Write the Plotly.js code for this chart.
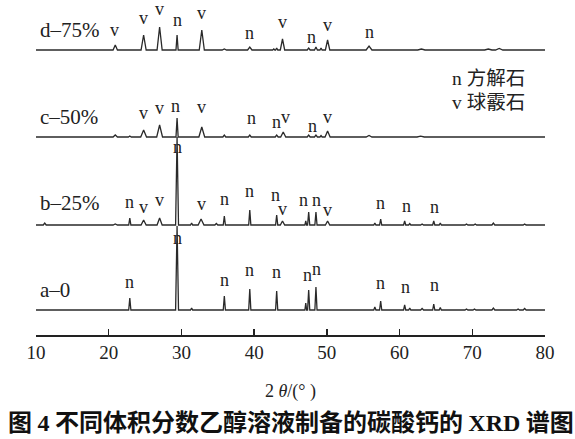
<!DOCTYPE html>
<html>
<head>
<meta charset="utf-8">
<script src="https://cdn.plot.ly/plotly-3.0.1.min.js"></script>
<style>html,body{margin:0;padding:0;background:#fff;}</style>
</head>
<body>
<div id="chart" style="width:575px;height:439px;"></div>
<script>
// ---- data (2θ in degrees, intensity in arbitrary units above each baseline) ----
const tickVals = [10, 20, 30, 40, 50, 60, 70, 80];

// a-0
const aBase = 25;
const aPos = [22.9, 29.4, 31.4, 35.9, 39.4, 43.1, 47.1, 47.5, 48.5, 56.6, 57.4, 60.7, 61.4, 63.1, 64.7, 65.6, 69.2, 70.3, 72.9, 76.3, 77.2];
const aInt = [12, 84, 2, 14, 21, 19, 7, 20, 23, 3, 9, 5, 2, 1.5, 6, 2.5, 1, 1, 2, 1, 1.5];
const aWid = [0.15, 0.2, 0.15, 0.15, 0.15, 0.15, 0.12, 0.15, 0.15, 0.15, 0.15, 0.15, 0.15, 0.2, 0.15, 0.15, 0.2, 0.2, 0.2, 0.2, 0.2];

// b-25%
const bBase = 110;
const bPos = [11.2, 20.9, 22.9, 24.8, 27.0, 29.4, 31.4, 32.7, 34.8, 35.9, 39.4, 43.1, 43.9, 47.1, 47.5, 48.5, 50.1, 56.6, 57.4, 60.7, 61.4, 63.1, 64.7, 65.6, 69.2, 70.4, 72.9, 77.2];
const bInt = [2, 1, 7, 5, 7, 88, 2, 6, 1.5, 9, 15, 10, 4, 4, 13, 13, 4, 2, 6, 4, 1.5, 1, 4, 2, 1, 1, 2, 1];
const bWid = [0.2, 0.3, 0.15, 0.35, 0.35, 0.2, 0.15, 0.4, 0.2, 0.15, 0.15, 0.15, 0.3, 0.12, 0.15, 0.15, 0.3, 0.15, 0.15, 0.15, 0.15, 0.2, 0.15, 0.15, 0.2, 0.2, 0.2, 0.2];

// c-50%
const cBase = 198;
const cPos = [20.9, 22.9, 24.8, 27.0, 29.4, 32.8, 35.9, 39.4, 43.1, 44.0, 47.5, 48.5, 49.2, 50.1, 55.8, 62.9];
const cInt = [2, 1, 7, 12, 19, 10, 2, 2, 2, 5, 2, 2, 1.5, 6, 1.5, 0.8];
const cWid = [0.3, 0.2, 0.4, 0.4, 0.15, 0.4, 0.2, 0.2, 0.2, 0.35, 0.2, 0.2, 0.15, 0.35, 0.4, 0.5];

// d-75%
const dBase = 285;
const dPos = [20.9, 24.8, 27.0, 29.4, 32.8, 35.9, 39.4, 42.7, 43.1, 43.9, 47.5, 48.5, 49.2, 50.1, 55.8, 63.0, 72.2, 73.7];
const dInt = [5, 15, 23, 15, 20, 1, 3, 1, 2, 11, 2, 3, 2, 10, 4, 1, 1, 1.5];
const dWid = [0.3, 0.35, 0.35, 0.15, 0.35, 0.3, 0.3, 0.15, 0.15, 0.3, 0.2, 0.2, 0.15, 0.3, 0.4, 0.5, 0.5, 0.5];

// peak labels: 2θ, phase letter, label height
const aLabX = [22.9, 29.4, 35.9, 39.4, 43.1, 47.3, 48.6, 57.4, 60.8, 64.8];
const aLabT = ['n', 'n', 'n', 'n', 'n', 'n', 'n', 'n', 'n', 'n'];
const aLabY = [53, 97, 55, 65, 63, 60, 66, 52, 48, 50];

const bLabX = [22.9, 24.8, 27.0, 29.4, 32.8, 35.9, 39.4, 43.0, 43.95, 46.8, 48.6, 50.1, 57.4, 60.9, 64.8];
const bLabT = ['n', 'v', 'v', 'n', 'v', 'n', 'n', 'n', 'v', 'n', 'n', 'v', 'n', 'n', 'n'];
const bLabY = [133, 128, 135, 188, 131, 136, 144, 140, 126, 135, 135, 125, 132, 129, 128];

const cLabX = [24.8, 27.0, 29.2, 32.8, 39.6, 43.1, 44.25, 48.0, 50.1];
const cLabT = ['v', 'v', 'n', 'v', 'n', 'n', 'v', 'n', 'v'];
const cLabY = [222, 227, 229, 228, 217, 213, 218, 209, 218];

const dLabX = [20.8, 24.8, 27.0, 29.4, 32.8, 39.4, 43.9, 47.9, 50.1, 55.9];
const dLabT = ['v', 'v', 'v', 'n', 'v', 'n', 'v', 'n', 'v', 'n'];
const dLabY = [305, 317, 326, 315, 322, 302, 313, 298, 310, 303];

const seriesNames = ['a–0', 'b–25%', 'c–50%', 'd–75%'];
const legendLines = ['n 方解石', 'v 球霰石'];
const xTitle = '2 <i>θ</i>/(° )';
const caption = '图 <span style="font-family:Liberation Serif">4</span> 不同体积分数乙醇溶液制备的碳酸钙的 <span style="font-family:Liberation Serif">XRD</span> 谱图';

// ---- build traces ----
function pattern(base, pos, inten, wid) {
  const x = [10], y = [base];
  for (let i = 0; i < pos.length; i++) {
    x.push(pos[i] - wid[i], pos[i], pos[i] + wid[i]);
    y.push(base, base + inten[i], base);
  }
  x.push(80); y.push(base);
  return {x: x, y: y, type: 'scatter', mode: 'lines', line: {color: '#2a2a2a', width: 1.3}, showlegend: false, hoverinfo: 'skip'};
}

const traces = [
  pattern(aBase, aPos, aInt, aWid),
  pattern(bBase, bPos, bInt, bWid),
  pattern(cBase, cPos, cInt, cWid),
  pattern(dBase, dPos, dInt, dWid)
];

const serif = 'Liberation Serif, Times New Roman, serif';
const ann = [];
function addLabels(xs, ts, ys) {
  for (let i = 0; i < xs.length; i++) {
    ann.push({x: xs[i], y: ys[i], xref: 'x', yref: 'y', text: ts[i], showarrow: false,
      font: {family: serif, size: 18, color: '#222'}, xanchor: 'center', yanchor: 'middle'});
  }
}
addLabels(aLabX, aLabT, aLabY);
addLabels(bLabX, bLabT, bLabY);
addLabels(cLabX, cLabT, cLabY);
addLabels(dLabX, dLabT, dLabY);

const nameY = [45, 132, 218, 305];
seriesNames.forEach(function (t, i) {
  ann.push({x: 10.25, y: nameY[i], xref: 'x', yref: 'y', text: t, showarrow: false,
    font: {family: serif, size: 21, color: '#222'}, xanchor: 'left', yanchor: 'middle'});
});

const legY = [257, 233];
legendLines.forEach(function (t, i) {
  ann.push({x: 67.0, y: legY[i], xref: 'x', yref: 'y', text: t, showarrow: false,
    font: {family: 'Liberation Serif, Noto Sans CJK SC, serif', size: 19.5, color: '#222'}, xanchor: 'left', yanchor: 'middle'});
});

ann.push({x: 0.5, y: -85 / 335, xref: 'paper', yref: 'paper', text: caption, showarrow: false,
  font: {family: 'Noto Sans CJK SC, sans-serif', size: 24, color: '#111', weight: 'bold'}, xanchor: 'center', yanchor: 'middle'});

const layout = {
  width: 575, height: 439,
  margin: {l: 36, r: 30, t: 0, b: 104},
  paper_bgcolor: '#fff', plot_bgcolor: '#fff',
  xaxis: {
    range: [10, 80], tickvals: tickVals, ticktext: tickVals.map(String),
    ticks: 'inside', ticklen: 6, tickwidth: 1.5, tickcolor: '#222',
    showline: true, linecolor: '#222', linewidth: 1.5, mirror: false,
    showgrid: false, zeroline: false,
    tickfont: {family: serif, size: 19, color: '#222'},
    title: {text: xTitle, font: {family: serif, size: 18, color: '#222'}, standoff: 22}
  },
  yaxis: {range: [0, 335], visible: false, showgrid: false, zeroline: false},
  annotations: ann
};

Plotly.newPlot('chart', traces, layout, {staticPlot: true, displayModeBar: false});
</script>
</body>
</html>
